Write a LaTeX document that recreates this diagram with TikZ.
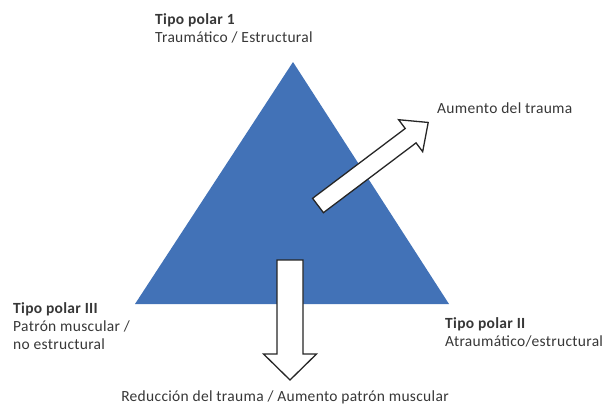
\documentclass[tikz,border=0pt]{standalone}
\usepackage{fontspec}
\setmainfont{Carlito}[LetterSpace=2]
\definecolor{polarblue}{RGB}{66,114,183}
\definecolor{textgray}{RGB}{55,55,55}
\tikzset{
  label/.style={anchor=base west, inner sep=0pt, text=textgray, font=\fontsize{15.5}{18}\selectfont},
  boldlabel/.style={label, font=\fontsize{15.5}{18}\selectfont\bfseries},
  bigarrow/.style={draw=black!85, fill=white, line width=1.3pt, line join=miter}
}
\begin{document}
\begin{tikzpicture}[x=1pt,y=-1pt]
\useasboundingbox (0,0) rectangle (603,405);

% Triangle
\coordinate (apex) at (293,62);
\coordinate (left) at (135,304);
\coordinate (right) at (449,304);
\fill[polarblue] (apex) -- (left) -- (right) -- cycle;

% Diagonal arrow: more trauma
\begin{scope}[shift={(318,205.5)},rotate=37]
  \draw[bigarrow] (0,-9) -- (116,-9) -- (116,-20) -- (138,0) -- (116,20) -- (116,9) -- (0,9) -- cycle;
\end{scope}

% Down arrow: less trauma
\begin{scope}[shift={(290,260)}]
  \draw[bigarrow] (-13,0) -- (-13,94) -- (-26.5,94) -- (0,120) -- (26.5,94) -- (13,94) -- (13,0) -- cycle;
\end{scope}

% Labels
\node[boldlabel] (p1) at (155,24) {Tipo polar 1};
\node[label] (p1b) at (155,42) {Traumático / Estructural};

\node[label] (up) at (437,113) {Aumento del trauma};

\node[boldlabel] (p3) at (13,313) {Tipo polar III};
\node[label] (p3b) at (13,331) {Patrón muscular /};
\node[label] (p3c) at (13,349) {no estructural};

\node[boldlabel] (p2) at (445,328) {Tipo polar II};
\node[label] (p2b) at (445,346) {Atraumático/estructural};

\node[label, anchor=base] (down) at (285,401) {Reducción del trauma / Aumento patrón muscular};
\end{tikzpicture}
\end{document}
